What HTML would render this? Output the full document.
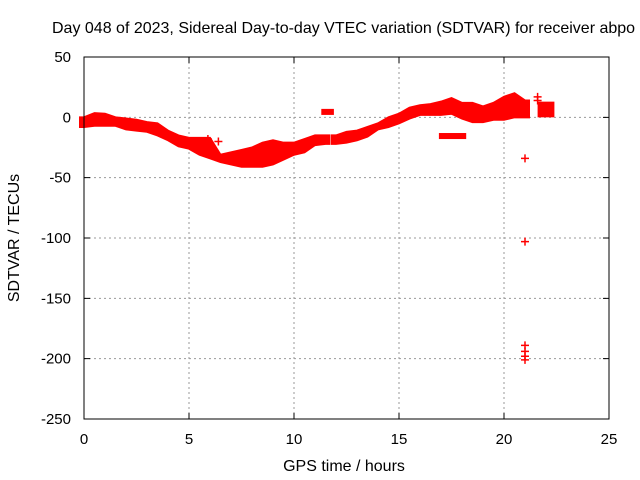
<!DOCTYPE html>
<html><head><meta charset="utf-8"><style>
body{margin:0;background:#fff}
svg{display:block;font-family:"Liberation Sans",sans-serif;font-size:15px}
</style></head><body>
<svg id="chart" width="640" height="480">
<text x="52" y="33" font-size="16" fill="#000">Day 048 of 2023, Sidereal Day-to-day VTEC variation (SDTVAR) for receiver abpo</text>
<text x="344" y="471" font-size="16" text-anchor="middle">GPS time / hours</text>
<text transform="translate(19,238) rotate(-90)" font-size="16" text-anchor="middle">SDTVAR / TECUs</text>
<g id="grid"></g><g id="ticks"></g><g id="marks"></g>
<rect x="84" y="57" width="525" height="362" fill="none" stroke="#000"/>
</svg>
<script>
const xTicks=[0,5,10,15,20,25];
const yTicks=[50,0,-50,-100,-150,-200,-250];
const bandTimes=[0,0.5,1,1.5,2,2.5,3,3.5,4,4.5,5,5.5,6,6.5,7,7.5,8,8.5,9,9.5,10,10.5,11,11.5];
const bandMax=[0,3.5,3,0,-1,-2,-4,-5,-11,-15,-17,-17,-17,-31,-29,-27,-25,-21,-19,-21,-21,-18,-15,-15];
const bandMin=[-8,-7,-7,-7,-10,-11,-12,-15,-19,-24,-26,-31,-34,-37,-39,-41,-41,-41,-39,-35,-31,-29,-23,-22];
const band2Times=[12,12.5,13,13.5,14,14.5,15,15.5,16,16.5,17,17.5,18,18.5,19,19.5,20,20.5,21];
const band2Max=[-15,-12,-11,-8,-5,0,3,8,10,11,13,16,12,12,9,12,17,20,14];
const band2Min=[-22,-21,-19,-16,-10,-8,-5,-1,2,2,2,3,-1,-4,-4,-2,-2,0,0];
const boxT=[11.3,11.9,16.9,18.2,21.6,22.4];
const boxV=[[2,7],[-13,-18],[0,13]];
const pointT=[21,21,21,21,21,21,5.9,6.4,21.6,21.6];
const pointV=[-34,-103,-189,-194,-198,-201,-18,-20,17,14];
const X=t=>84+t*21, Y=v=>57+(50-v)*362/300;
const NS='http://www.w3.org/2000/svg';
function mk(tag,attrs,parent){const e=document.createElementNS(NS,tag);for(const k in attrs)e.setAttribute(k,attrs[k]);document.getElementById(parent).appendChild(e);return e;}
xTicks.forEach(t=>{
  if(t>0&&t<25){const g=mk('line',{x1:X(t),x2:X(t),y1:57,y2:419,stroke:'#999','stroke-dasharray':'2,3'},'grid');
  
  }
  const tk=mk('path',{d:`M${X(t)},419v-6M${X(t)},57v6`,stroke:'#000'},'ticks');
  
  
  const l=mk('text',{x:X(t),y:444,'text-anchor':'middle'},'ticks');l.textContent=t;
  
  
});
yTicks.forEach(v=>{
  if(v<50&&v>-250){const g=mk('line',{x1:84,x2:609,y1:Y(v),y2:Y(v),stroke:'#999','stroke-dasharray':'2,3'},'grid');
  
  }
  const tk=mk('path',{d:`M84,${Y(v)}h6M609,${Y(v)}h-6`,stroke:'#000'},'ticks');
  
  
  const l=mk('text',{x:71,y:Y(v)+5,'text-anchor':'end'},'ticks');l.textContent=v;
  
  
});
function band(ts,mx,mn){
  let d='M'+(X(ts[0])-4)+','+Y(mx[0]);
  ts.forEach((t,i)=>{d+='L'+X(t)+','+Y(mx[i]);});
  d+='L'+(X(ts[ts.length-1])+4)+','+Y(mx[ts.length-1]);
  d+='L'+(X(ts[ts.length-1])+4)+','+Y(mn[ts.length-1]);
  for(let i=ts.length-1;i>=0;i--)d+='L'+X(ts[i])+','+Y(mn[i]);
  d+='L'+(X(ts[0])-4)+','+Y(mn[0])+'Z';
  const p=mk('path',{d:d,fill:'#f00',stroke:'#f00','stroke-width':2},'marks');
  
  
}
band(bandTimes,bandMax,bandMin);
band(band2Times,band2Max,band2Min);
for(let i=0;i<boxV.length;i++){
  const x1=X(boxT[2*i]),x2=X(boxT[2*i+1]),y1=Y(boxV[i][1]),y2=Y(boxV[i][0]);
  const r=mk('rect',{x:Math.min(x1,x2),y:Math.min(y1,y2),width:Math.abs(x2-x1),height:Math.abs(y2-y1),fill:'#f00'},'marks');
  
  
}
pointT.forEach((t,i)=>{
  const x=X(t),y=Y(pointV[i]);
  const p=mk('path',{d:`M${x-4},${y}h8M${x},${y-4}v8`,stroke:'#f00','stroke-width':1.5},'marks');
  
  
});
</script>
</body></html>
